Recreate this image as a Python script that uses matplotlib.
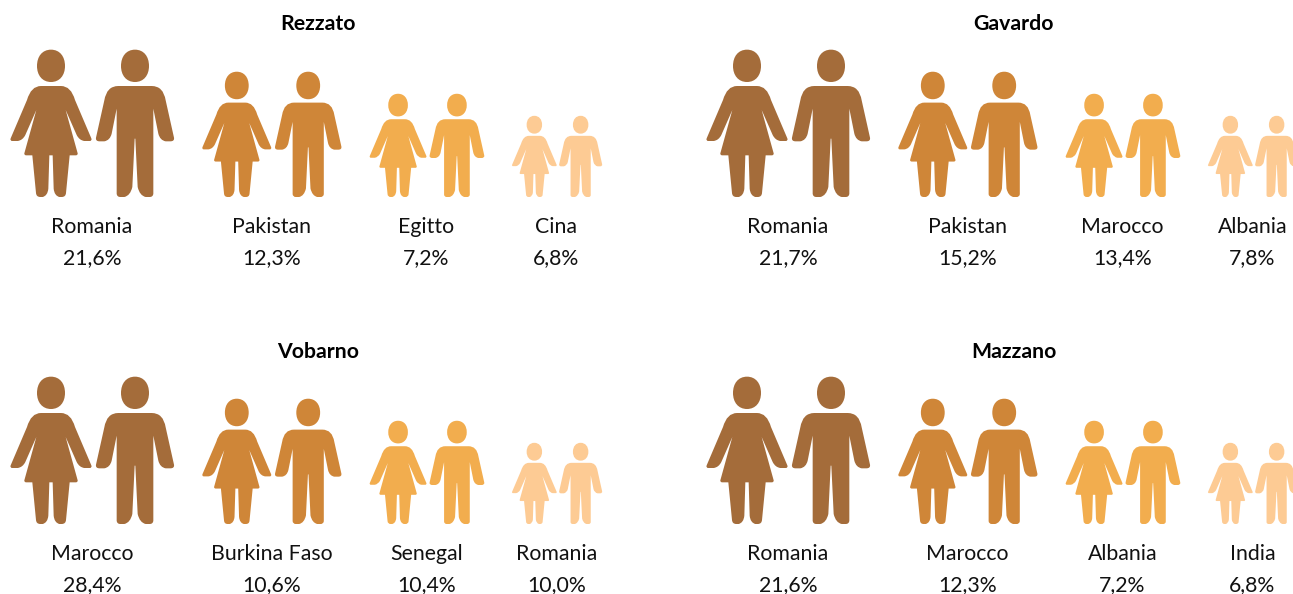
#!/usr/bin/env python
# -*- coding: utf-8 -*-

"""
Pictogram chart: top foreign communities in four towns.
"""

from matplotlib import pyplot as plt
from matplotlib.path import Path
from matplotlib.patches import PathPatch
from matplotlib.transforms import Affine2D

# data
towns = ['Rezzato', 'Gavardo', 'Vobarno', 'Mazzano']
rezzato_names = ['Romania', 'Pakistan', 'Egitto', 'Cina']
rezzato_values = [21.6, 12.3, 7.2, 6.8]
gavardo_names = ['Romania', 'Pakistan', 'Marocco', 'Albania']
gavardo_values = [21.7, 15.2, 13.4, 7.8]
vobarno_names = ['Marocco', 'Burkina Faso', 'Senegal', 'Romania']
vobarno_values = [28.4, 10.6, 10.4, 10.0]
mazzano_names = ['Romania', 'Marocco', 'Albania', 'India']
mazzano_values = [21.6, 12.3, 7.2, 6.8]

# layout, in pixels of the figure
W, H = 1293, 594
COLORS = ['#A46C3A', '#CF8638', '#F2AD4E', '#FDCB94']
SCALES = [1.0, 125 / 147, 103 / 147, 81 / 147]
CENTERS = [93, 272.5, 427.5, 557.5]
OFFSETS = [(0, 0), (696, 0), (0, 327), (696, 327)]
FOOT_Y = 197
FONT = 'Lato'
TEXT_COLOR = '#111111'

M, L, Q, C = Path.MOVETO, Path.LINETO, Path.CURVE3, Path.CURVE4


def _mirror(half):
    """half = [(code, x, y)...] on the right side, x measured from the axis"""
    verts = [(x, y) for c, x, y in half]
    codes = [c for c, x, y in half]
    # walk back along the left side
    back_v = [(-x, y) for x, y in verts[::-1]]
    back_c = [L]
    for i in range(len(codes) - 1, 0, -1):
        back_c.append(codes[i])
    return Path(verts + back_v, codes + back_c)


# outlines in units of 1/3 px at full size, y measured from the feet (down is +)
WOMAN = _mirror([
    (M, 0, -333), (L, 30, -333),
    (Q, 60, -333), (Q, 72, -291),
    (L, 121, -176), (Q, 124, -168), (Q, 116, -168),
    (L, 100, -168), (Q, 85, -170), (Q, 77, -186),
    (L, 44, -261),
    (L, 80, -131), (Q, 81, -125), (Q, 74, -125),
    (L, 56, -125),
    (L, 45, -12), (Q, 44, 0), (Q, 32, 0),
    (L, 25, 0), (Q, 10, -4), (Q, 8, -25),
    (L, 5, -125), (L, 0, -125),
])

MAN = _mirror([
    (M, 0, -333), (L, 50, -333),
    (Q, 85, -333), (Q, 92, -290),
    (L, 117, -178), (Q, 119, -167), (Q, 106, -167),
    (L, 92, -167), (Q, 75, -170), (Q, 70, -190),
    (L, 55, -265),
    (L, 55, -10), (Q, 54, 0), (Q, 44, 0),
    (L, 32, 0), (Q, 14, -4), (Q, 8, -30),
    (L, 1, -175), (L, 0, -175),
])

# egg shaped head, same units
HEAD = Path(
    [(0, -442), (26, -442), (42, -422), (42, -393),
     (42, -365), (26, -345), (0, -345),
     (-26, -345), (-42, -365), (-42, -393),
     (-42, -422), (-26, -442), (0, -442)],
    [M, C, C, C, C, C, C, C, C, C, C, C, C])


def draw_figure(ax, path, cx, foot, scale, color):
    tr = Affine2D().scale(scale / 3.0).translate(cx, foot) + ax.transData
    ax.add_patch(PathPatch(path, facecolor=color, edgecolor='none', transform=tr))
    ax.add_patch(PathPatch(HEAD, facecolor=color, edgecolor='none', transform=tr))


def draw_town(ax, title, names, values, offset):
    dx, dy = offset
    ax.text(318 + dx, 24.5 + dy, title, ha='center', va='center', fontsize=15.3,
            fontweight='bold', family=FONT, color='black')
    for i, (name, value) in enumerate(zip(names, values)):
        scale = SCALES[i]
        cx = CENTERS[i] + dx
        draw_figure(ax, WOMAN, cx - 42 * scale, FOOT_Y + dy, scale, COLORS[i])
        draw_figure(ax, MAN, cx + 42 * scale, FOOT_Y + dy, scale, COLORS[i])
        ax.text(cx - 1, 233 + dy, name, ha='center', va='baseline', fontsize=15.3,
                family=FONT, color=TEXT_COLOR)
        label = ('%.1f%%' % value).replace('.', ',')
        ax.text(cx - 1, 264 + dy, label, ha='center', va='baseline', fontsize=15.3,
                family=FONT, color=TEXT_COLOR)


def main():
    fig = plt.figure(figsize=(W / 100, H / 100), dpi=100)
    ax = fig.add_axes((0, 0, 1, 1))
    ax.set_xlim(0, W)
    ax.set_ylim(H, 0)
    ax.axis('off')
    all_names = [rezzato_names, gavardo_names, vobarno_names, mazzano_names]
    all_values = [rezzato_values, gavardo_values, vobarno_values, mazzano_values]
    for town, names, values, offset in zip(towns, all_names, all_values, OFFSETS):
        draw_town(ax, town, names, values, offset)
    fig.savefig('out.png', dpi=100)


if __name__ == '__main__':
    main()
